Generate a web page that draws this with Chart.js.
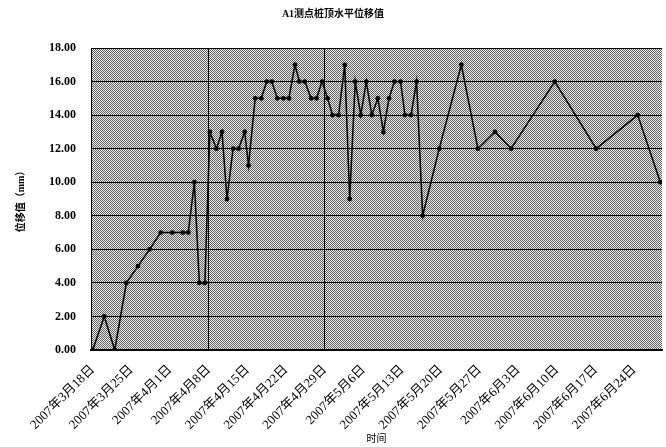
<!DOCTYPE html>
<html>
<head>
<meta charset="utf-8">
<script src="https://cdn.jsdelivr.net/npm/chart.js@4/dist/chart.umd.min.js"></script>
<style>
  html, body { margin: 0; padding: 0; background: #fff; }
  #wrap { width: 666px; height: 447px; }
</style>
</head>
<body>
<div id="wrap"><canvas id="c" width="666" height="447"></canvas></div>
<script>
// Weekly axis ticks, counted in days from 2007-03-18
const tickDays = [0, 7, 14, 21, 28, 35, 42, 49, 56, 63, 70, 77, 84, 91, 98];
const tickLabels = [
  '2007年3月18日', '2007年3月25日', '2007年4月1日', '2007年4月8日',
  '2007年4月15日', '2007年4月22日', '2007年4月29日', '2007年5月6日',
  '2007年5月13日', '2007年5月20日', '2007年5月27日', '2007年6月3日',
  '2007年6月10日', '2007年6月17日', '2007年6月24日'
];
const yTicks = [0, 2, 4, 6, 8, 10, 12, 14, 16, 18];
// Days carrying a heavier vertical guide line
const markedDays = [21, 42];

// Survey readings: time (days after 2007-03-18) and displacement (mm)
const dayOffsets = [
  0, 2.1, 4.0, 6.1, 8.2, 10.3, 12.3, 14.4, 16.3, 17.3,
  18.4, 19.3, 20.3, 21.2, 22.4, 23.4, 24.3, 25.4, 26.4, 27.5,
  28.2, 29.4, 30.5, 31.5, 32.4, 33.4, 34.5, 35.5, 36.6, 37.4,
  38.4, 39.5, 40.5, 41.5, 42.5, 43.4, 44.5, 45.6, 46.5, 47.5,
  48.5, 49.5, 50.5, 51.6, 52.6, 53.6, 54.6, 55.7, 56.5, 57.6,
  58.6, 59.7, 62.7, 66.7, 69.7, 72.8, 75.7, 83.6, 91.1, 98.6,
  102.7
];
const displacement = [
  0, 2, 0, 4, 5, 6, 7, 7, 7, 7,
  10, 4, 4, 13, 12, 13, 9, 12, 12, 13,
  11, 15, 15, 16, 16, 15, 15, 15, 17, 16,
  16, 15, 15, 16, 15, 14, 14, 17, 9, 16,
  14, 16, 14, 15, 13, 15, 16, 16, 14, 14,
  16, 8, 12, 17, 12, 13, 12, 16, 12, 14,
  10
];

const points = dayOffsets.map((d, i) => ({ x: d, y: displacement[i] }));

// Halftone-style grey fill for the plot area
const tile = document.createElement('canvas');
tile.width = 2; tile.height = 2;
const tctx = tile.getContext('2d');
tctx.fillStyle = '#ececec'; tctx.fillRect(0, 0, 2, 2);
tctx.fillStyle = '#626262'; tctx.fillRect(0, 0, 1, 1); tctx.fillRect(1, 1, 1, 1);
const plotPattern = document.getElementById('c').getContext('2d').createPattern(tile, 'repeat');

const plotBg = {
  id: 'plotBg',
  beforeDraw(chart) {
    const { ctx, chartArea: a } = chart;
    ctx.save();
    ctx.fillStyle = plotPattern;
    ctx.fillRect(a.left, a.top, a.right - a.left, a.bottom - a.top);
    ctx.restore();
  }
};

const FONT = "'Liberation Serif', 'Noto Sans CJK SC', serif";

new Chart(document.getElementById('c'), {
  type: 'line',
  data: {
    datasets: [{
      data: points,
      borderColor: '#000',
      borderWidth: 1.5,
      backgroundColor: '#000',
      pointBackgroundColor: '#000',
      pointBorderColor: '#000',
      pointRadius: 2.4,
      pointBorderWidth: 0,
      tension: 0,
      fill: false
    }]
  },
  options: {
    responsive: false,
    animation: false,
    devicePixelRatio: 1,
    layout: { padding: 0 },
    plugins: {
      legend: { display: false },
      tooltip: { enabled: false },
      title: {
        display: true,
        text: 'A1测点桩顶水平位移值',
        color: '#000',
        font: { family: FONT, size: 10, weight: 'bold', lineHeight: 1.2 },
        padding: { top: 8, bottom: 28 }
      }
    },
    scales: {
      x: {
        type: 'linear',
        min: -0.3,
        max: 103,
        afterBuildTicks: s => { s.ticks = tickDays.map(v => ({ value: v })); },
        afterFit: s => { s.height = 97; },
        ticks: {
          autoSkip: false,
          minRotation: 45,
          maxRotation: 45,
          padding: 12,
          color: '#000',
          font: { family: FONT, size: 13 },
          callback: v => tickLabels[tickDays.indexOf(v)]
        },
        grid: {
          drawTicks: false,
          lineWidth: 1,
          color: c => (c.tick && markedDays.includes(c.tick.value)) ? '#000' : 'rgba(0,0,0,0)'
        },
        border: { color: '#000', width: 2 },
        title: {
          display: true,
          text: '时间',
          color: '#000',
          font: { family: FONT, size: 10, lineHeight: 1.2 },
          padding: { top: 0, bottom: 2 }
        }
      },
      y: {
        min: 0,
        max: 18,
        afterBuildTicks: s => { s.ticks = yTicks.map(v => ({ value: v })); },
        afterFit: s => { s.width = 91; },
        ticks: {
          padding: 15,
          color: '#000',
          font: { family: FONT, size: 12, weight: 'bold' },
          callback: v => Number(v).toFixed(2)
        },
        grid: { drawTicks: false, color: '#000', lineWidth: 1 },
        border: { color: '#000', width: 1 },
        title: {
          display: true,
          text: '位移值（mm）',
          color: '#000',
          font: { family: FONT, size: 10, weight: 'bold', lineHeight: 1.2 },
          padding: { top: 15, bottom: 0 }
        }
      }
    }
  },
  plugins: [plotBg]
});
</script>
</body>
</html>
